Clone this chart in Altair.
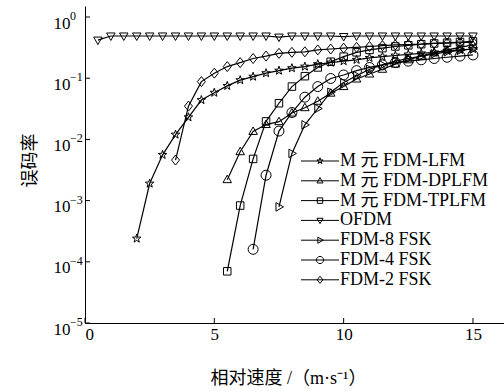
import altair as alt
import pandas as pd

# ---------------- data ----------------
series_names = ["M 元 FDM-LFM", "M 元 FDM-DPLFM", "M 元 FDM-TPLFM", "OFDM",
                "FDM-8 FSK", "FDM-4 FSK", "FDM-2 FSK"]

lfm_x = [2, 2.5, 3, 3.5, 4, 4.5, 5, 5.5, 6, 6.5, 7, 7.5, 8, 8.5, 9, 9.5, 10,
         10.5, 11, 11.5, 12, 12.5, 13, 13.5, 14, 14.5, 15]
lfm_y = [2.4e-4, 1.9e-3, 5.6e-3, 0.012, 0.023, 0.044, 0.058, 0.075, 0.093, 0.106,
         0.121, 0.133, 0.146, 0.155, 0.17, 0.18, 0.19, 0.20, 0.215, 0.225, 0.235,
         0.245, 0.255, 0.265, 0.28, 0.29, 0.30]

dp_x = [5.5, 6, 6.5, 7, 7.5, 8, 8.5, 9, 9.5, 10, 10.5, 11, 11.5, 12, 12.5, 13,
        13.5, 14, 14.5, 15]
dp_y = [2.2e-3, 6.3e-3, 0.0135, 0.0175, 0.0195, 0.027, 0.033, 0.042, 0.057, 0.073,
        0.097, 0.117, 0.14, 0.17, 0.2, 0.23, 0.26, 0.29, 0.32, 0.35]

tp_x = [5.5, 6, 6.5, 7, 7.5, 8, 8.5, 9, 9.5, 10, 10.5, 11, 11.5, 12, 12.5, 13,
        13.5, 14, 14.5, 15]
tp_y = [7e-5, 8.3e-4, 4.8e-3, 0.0197, 0.039, 0.073, 0.108, 0.15, 0.186, 0.225,
        0.265, 0.29, 0.31, 0.33, 0.345, 0.36, 0.37, 0.38, 0.39, 0.40]

ofdm_x = [0.5, 1, 1.5, 2, 2.5, 3, 3.5, 4, 4.5, 5, 5.5, 6, 6.5, 7, 7.5, 8, 8.5, 9,
          9.5, 10, 10.5, 11, 11.5, 12, 12.5, 13, 13.5, 14, 14.5, 15]
ofdm_y = [0.42, 0.49, 0.49, 0.49, 0.49, 0.49, 0.49, 0.49, 0.49, 0.49, 0.49, 0.49,
          0.49, 0.49, 0.47, 0.49, 0.49, 0.49, 0.49, 0.48, 0.49, 0.49, 0.49, 0.49,
          0.49, 0.49, 0.49, 0.49, 0.49, 0.49]

f8_x = [7.5, 8, 8.5, 9, 9.5, 10, 10.5, 11, 11.5, 12, 12.5, 13, 13.5, 14, 14.5, 15]
f8_y = [7.9e-4, 5.9e-3, 0.0173, 0.032, 0.059, 0.085, 0.11, 0.14, 0.165, 0.19,
        0.21, 0.23, 0.25, 0.27, 0.285, 0.30]

f4_x = [6.5, 7, 7.5, 8, 8.5, 9, 9.5, 10, 10.5, 11, 11.5, 12, 12.5, 13, 13.5, 14,
        14.5, 15]
f4_y = [1.6e-4, 2.6e-3, 0.0137, 0.0275, 0.049, 0.073, 0.099, 0.113, 0.133, 0.15,
        0.165, 0.18, 0.19, 0.2, 0.21, 0.22, 0.23, 0.24]

f2_x = [3.5, 4, 4.5, 5, 5.5, 6, 6.5, 7, 7.5, 8, 8.5, 9, 9.5, 10, 10.5, 11, 11.5,
        12, 12.5, 13, 13.5, 14, 14.5, 15]
f2_y = [4.6e-3, 0.035, 0.088, 0.121, 0.155, 0.18, 0.21, 0.23, 0.255, 0.265, 0.27,
        0.29, 0.30, 0.31, 0.32, 0.33, 0.34, 0.35, 0.355, 0.36, 0.37, 0.375, 0.38,
        0.39]

x_tick_values = [0, 5, 10, 15]
y_tick_values = [1, 0.1, 0.01, 0.001, 0.0001, 0.00001]
y_tick_exponents = ["0", "−1", "−2", "−3", "−4", "−5"]

x_title = "相对速度 /（m·s⁻¹）"
y_title = "误码率"

# ---------------- table ----------------
all_series = [(series_names[0], lfm_x, lfm_y), (series_names[1], dp_x, dp_y),
              (series_names[2], tp_x, tp_y), (series_names[3], ofdm_x, ofdm_y),
              (series_names[4], f8_x, f8_y), (series_names[5], f4_x, f4_y),
              (series_names[6], f2_x, f2_y)]
rows = []
for name, xs, ys in all_series:
    for xv, yv in zip(xs, ys):
        rows.append({"series": name, "v": xv, "ber": yv})
df = pd.DataFrame(rows)

# ---------------- marker shapes ----------------
def poly(pts, s=1.0):
    return "M" + "L".join(f"{px*s:.3f},{py*s:.3f}" for px, py in pts) + "Z"

def circ(r):
    return f"M{r},0A{r},{r},0,1,1,{-r},0A{r},{r},0,1,1,{r},0Z"

star_pts = [(0, -1), (0.235, -0.324), (0.951, -0.309), (0.38, 0.124), (0.588, 0.809),
            (0, 0.4), (-0.588, 0.809), (-0.38, 0.124), (-0.951, -0.309), (-0.235, -0.324)]
tri_up = [(0, -0.9), (0.85, 0.6), (-0.85, 0.6)]
square = [(-0.75, -0.75), (0.75, -0.75), (0.75, 0.75), (-0.75, 0.75)]
tri_down = [(0, 0.9), (0.85, -0.6), (-0.85, -0.6)]
tri_right = [(0.9, 0), (-0.6, 0.85), (-0.6, -0.85)]
diamond = [(0, -1), (0.8, 0), (0, 1), (-0.8, 0)]

def markers(s):
    return [poly(star_pts, 0.9 * s), poly(tri_up, s), poly(square, s), poly(tri_down, s),
            poly(tri_right, s), circ(1.0 * s), poly(diamond, s)]

plot_shapes = markers(1.0)
legend_shapes = ["M-3.8,0H3.8" + m for m in markers(0.72)]

# ---------------- encodings ----------------
serif = "Liberation Serif, 'Noto Sans CJK SC'"
xscale = alt.Scale(domain=[0, 16.2], nice=False, zero=False)
yscale = alt.Scale(type="log", domain=[1e-5, 1.514], nice=False)

x_axis = alt.Axis(values=x_tick_values, ticks=False, tickSize=0, grid=False,
                  labelPadding=3, labelFontSize=17, labelFont="Liberation Serif",
                  title=x_title, titleFont=serif, titleFontSize=18,
                  titleFontWeight="normal", titleBaseline="middle", titleY=55, titleX=203)
y_axis = alt.Axis(values=y_tick_values, ticks=False, tickSize=0, grid=False,
                  labelExpr="'10'", labelPadding=15, labelOffset=6,
                  labelFontSize=17, labelFont="Liberation Serif",
                  title=y_title, titleFont=serif, titleFontSize=18,
                  titleFontWeight="normal", titleBaseline="middle",
                  titleX=-55, titleY=154, titleAngle=270)

x_enc = alt.X("v:Q", scale=xscale, axis=x_axis)
y_enc = alt.Y("ber:Q", scale=yscale, axis=y_axis)

lines = alt.Chart(df).mark_line(color="black", strokeWidth=1.2).encode(
    x=x_enc, y=y_enc, detail="series:N")

points = alt.Chart(df).mark_point(filled=False, color="black", strokeWidth=1,
                                  size=100, opacity=1).encode(
    x=x_enc, y=y_enc,
    shape=alt.Shape("series:N", scale=alt.Scale(domain=series_names, range=plot_shapes),
                    legend=None))

legend_layer = alt.Chart(df).mark_point(filled=False, color="black", strokeWidth=1,
                                        size=100, opacity=0).encode(
    x=x_enc, y=y_enc,
    shape=alt.Shape("series:N", scale=alt.Scale(domain=series_names, range=legend_shapes),
                    legend=alt.Legend(title=None, orient="none", legendX=226, legendY=146,
                                      labelFont=serif, labelFontSize=18, labelColor="black",
                                      labelOffset=11, rowPadding=1.8, padding=0,
                                      symbolSize=100, symbolStrokeWidth=1,
                                      symbolStrokeColor="black", symbolOpacity=1,
                                      symbolFillColor="transparent")))

xt = alt.Chart(pd.DataFrame({"v": x_tick_values})).mark_rule(color="black", strokeWidth=1).encode(
    x=x_enc, y=alt.value(317), y2=alt.value(312))
yt = alt.Chart(pd.DataFrame({"ber": y_tick_values})).mark_rule(color="black", strokeWidth=1).encode(
    y=y_enc, x=alt.value(0), x2=alt.value(5))

exps = alt.Chart(pd.DataFrame({"ber": y_tick_values, "e": y_tick_exponents})).mark_text(
    align="left", baseline="middle", font="Liberation Serif", fontSize=12, color="black",
    dy=-1).encode(y=y_enc, x=alt.value(-15), text="e:N")

chart = alt.layer(lines, points, legend_layer, xt, yt, exps).resolve_scale(
    shape="independent"
).properties(
    width=419, height=317, autosize="none",
    padding={"left": 85, "top": 6, "right": 0, "bottom": 68},
).configure_view(stroke=None).configure_axis(
    domainColor="black", domainWidth=1, labelColor="black", titleColor="black"
)

chart.save("out.html", embed_options={"renderer": "svg", "actions": False})
